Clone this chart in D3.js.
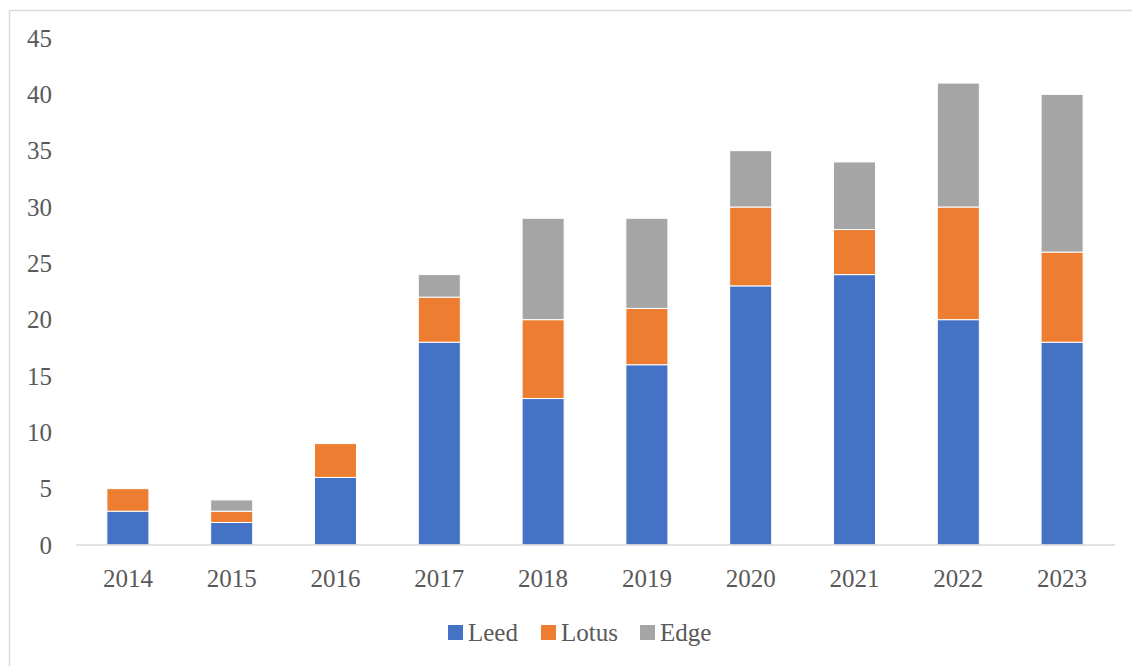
<!DOCTYPE html>
<html>
<head>
<meta charset="utf-8">
<script src="https://cdn.jsdelivr.net/npm/d3@7"></script>
<style>
  body { margin: 0; background: #fff; }
  text { font-family: "Liberation Serif", "DejaVu Serif", serif; fill: #595959; }
</style>
</head>
<body>
<div id="chart"></div>
<script>
var years = ["2014", "2015", "2016", "2017", "2018", "2019", "2020", "2021", "2022", "2023"];
var leed  = [3, 2, 6, 18, 13, 16, 23, 24, 20, 18];
var lotus = [2, 1, 3, 4, 7, 5, 7, 4, 10, 8];
var edge  = [0, 1, 0, 2, 9, 8, 5, 6, 11, 14];
var seriesNames = ["Leed", "Lotus", "Edge"];
var yTicks = [0, 5, 10, 15, 20, 25, 30, 35, 40, 45];

var colors = d3.scaleOrdinal()
    .domain(seriesNames)
    .range(["#4472c4", "#ed7d31", "#a5a5a5"]);

var width = 1132, height = 666;
var margins = { left: 76, right: 18, top: 38, bottom: 121 };

var svg = d3.select("#chart").append("svg")
    .attr("width", width)
    .attr("height", height);

// chart frame
svg.append("rect")
    .attr("x", 9.5).attr("y", 10.5)
    .attr("width", 1130).attr("height", 660)
    .attr("fill", "none")
    .attr("stroke", "#d9d9d9")
    .attr("stroke-width", 1.5);

var table = years.map(function (y, i) {
    return { year: y, Leed: leed[i], Lotus: lotus[i], Edge: edge[i] };
});
var stacked = d3.stack().keys(seriesNames)(table);

var x = d3.scaleBand()
    .domain(years)
    .range([margins.left, width - margins.right])
    .paddingInner(0.595)
    .paddingOuter(0.2975);

var y = d3.scaleLinear()
    .domain([0, 45])
    .range([height - margins.bottom, margins.top]);

// y tick labels (no gridlines)
svg.append("g").selectAll("text")
    .data(yTicks)
    .enter().append("text")
    .attr("x", 52)
    .attr("y", function (d) { return y(d); })
    .attr("dy", "0.35em")
    .attr("text-anchor", "end")
    .style("font-size", "25px")
    .text(function (d) { return d; });

// bars
svg.append("g").selectAll("g")
    .data(stacked)
    .enter().append("g")
    .attr("fill", function (d) { return colors(d.key); })
    .selectAll("rect")
    .data(function (d) { return d; })
    .enter().append("rect")
    .filter(function (d) { return d[1] - d[0] > 0; })
    .attr("x", function (d) { return x(d.data.year); })
    .attr("y", function (d) { return y(d[1]); })
    .attr("width", x.bandwidth())
    .attr("height", function (d) { return y(d[0]) - y(d[1]); })
    .attr("stroke", "#fff")
    .attr("stroke-width", 1);

// x axis line
svg.append("line")
    .attr("x1", margins.left).attr("x2", width - margins.right + 1)
    .attr("y1", y(0)).attr("y2", y(0))
    .attr("stroke", "#d9d9d9")
    .attr("stroke-width", 1.5);

svg.append("g").selectAll("text")
    .data(years)
    .enter().append("text")
    .attr("x", function (d) { return x(d) + x.bandwidth() / 2; })
    .attr("y", 578)
    .attr("dy", "0.35em")
    .attr("text-anchor", "middle")
    .style("font-size", "25px")
    .text(function (d) { return d; });

// legend
var legendX = [448, 541, 640];
var legend = svg.append("g").selectAll("g")
    .data(seriesNames)
    .enter().append("g")
    .attr("transform", function (d, i) { return "translate(" + legendX[i] + ",625)"; });

legend.append("rect")
    .attr("width", 15).attr("height", 15)
    .attr("fill", function (d) { return colors(d); });

legend.append("text")
    .attr("x", 20)
    .attr("y", 7.5)
    .attr("dy", "0.35em")
    .style("font-size", "25px")
    .text(function (d) { return d; });
</script>
</body>
</html>
